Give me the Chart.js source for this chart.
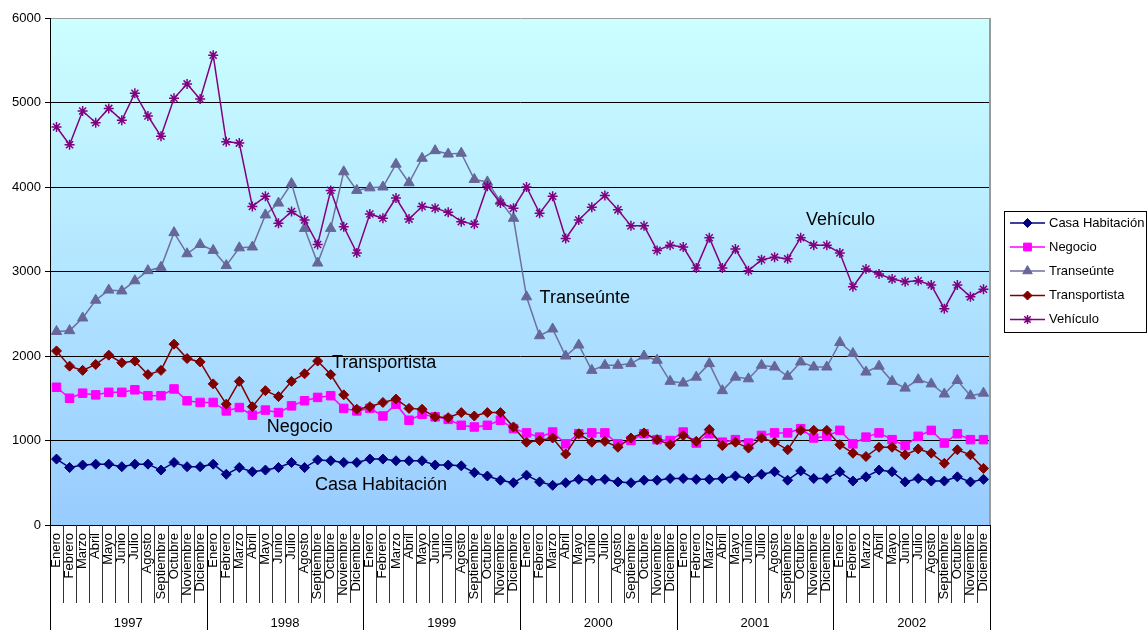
<!DOCTYPE html>
<html lang="es">
<head>
<meta charset="utf-8">
<title>Incidencia mensual por tipo, 1997–2002</title>
<script src="https://cdn.jsdelivr.net/npm/chart.js@4/dist/chart.umd.min.js"></script>
<style>
  html, body { margin: 0; padding: 0; background: #ffffff; }
  canvas { display: block; }
</style>
</head>
<body>
<canvas id="chart" width="1148" height="630"></canvas>
<script>
// ---- data ---------------------------------------------------------------
const years = ['1997', '1998', '1999', '2000', '2001', '2002'];
const months = ['Enero', 'Febrero', 'Marzo', 'Abril', 'Mayo', 'Junio', 'Julio',
  'Agosto', 'Septiembre', 'Octubre', 'Noviembre', 'Diciembre'];
const monthLabels = years.flatMap(() => months);

const yTicks = [0, 1000, 2000, 3000, 4000, 5000, 6000];

const seriesNames = ['Casa Habitación', 'Negocio', 'Transeúnte', 'Transportista', 'Vehículo'];

const casaHabitacion = [
  780, 680, 710, 720, 720, 690, 720, 720, 650, 740, 690, 690,
  720, 600, 680, 630, 650, 680, 740, 680, 770, 760, 740, 740,
  780, 780, 760, 760, 760, 710, 710, 700, 620, 580, 530, 500,
  590, 510, 470, 500, 540, 530, 540, 510, 500, 530, 530, 550,
  550, 540, 540, 550, 580, 550, 600, 630, 530, 640, 550, 550,
  630, 520, 570, 650, 630, 510, 550, 520, 520, 570, 510, 540];

const negocio = [
  1630, 1500, 1560, 1540, 1570, 1570, 1600, 1530, 1530, 1610, 1470, 1450,
  1450, 1350, 1390, 1300, 1360, 1330, 1410, 1470, 1510, 1530, 1380, 1350,
  1380, 1290, 1430, 1240, 1310, 1280, 1250, 1180, 1160, 1180, 1240, 1140,
  1090, 1040, 1100, 960, 1080, 1090, 1090, 960, 1000, 1080, 1010, 1000,
  1100, 970, 1080, 980, 1010, 970, 1060, 1090, 1090, 1140, 1030, 1050,
  1120, 960, 1040, 1090, 1010, 940, 1050, 1120, 970, 1080, 1010, 1010];

const transeunte = [
  2290, 2300, 2450, 2660, 2780, 2770, 2890, 3010, 3050, 3460, 3210, 3320,
  3250, 3070, 3280, 3290, 3670, 3810, 4040, 3510, 3100, 3510, 4180, 3960,
  3990, 4000, 4270, 4050, 4340, 4430, 4390, 4400, 4090, 4060, 3830, 3630,
  2700, 2240, 2320, 2000, 2130, 1830, 1890, 1890, 1910, 2000, 1950, 1700,
  1680, 1750, 1910, 1590, 1750, 1730, 1890, 1870, 1760, 1930, 1870, 1870,
  2160, 2030, 1810, 1880, 1700, 1620, 1720, 1670, 1550, 1710, 1530, 1560];

const transportista = [
  2060, 1880, 1830, 1900, 2010, 1920, 1940, 1780, 1830, 2140, 1970, 1930,
  1670, 1430, 1700, 1400, 1590, 1520, 1700, 1790, 1940, 1780, 1540, 1370,
  1400, 1450, 1490, 1380, 1370, 1280, 1270, 1330, 1290, 1330, 1330, 1160,
  980, 1000, 1030, 840, 1080, 980, 990, 920, 1030, 1090, 1010, 950,
  1060, 990, 1130, 940, 980, 910, 1030, 980, 890, 1120, 1120, 1120,
  950, 850, 810, 920, 920, 830, 900, 850, 730, 890, 830, 670];

const vehiculo = [
  4710, 4500, 4900, 4760, 4930, 4790, 5110, 4840, 4600, 5050, 5220, 5040,
  5560, 4535, 4520, 3770, 3890, 3570, 3710, 3610, 3320, 3960, 3530, 3220,
  3680, 3630, 3870, 3620, 3770, 3750, 3700, 3590, 3560, 4010, 3810, 3750,
  4000, 3690, 3890, 3390, 3610, 3760, 3900, 3730, 3540, 3540, 3250, 3310,
  3290, 3040, 3400, 3040, 3265, 3010, 3140, 3170, 3150, 3400, 3310, 3310,
  3220, 2820, 3030, 2970, 2910, 2880, 2890, 2840, 2560, 2840, 2700, 2790];

// series name labels written inside the plot, anchored in data units
const noteTexts = ['Vehículo', 'Transeúnte', 'Transportista', 'Negocio', 'Casa Habitación'];
const noteAtIndex = [57.4, 37.0, 21.1, 16.1, 19.8];
const noteAtValue = [3555, 2627, 1858, 1101, 414];

// ---- styling ------------------------------------------------------------
const FONT = "'Liberation Sans', Arial, Helvetica, sans-serif";
Chart.defaults.font.family = FONT;
Chart.defaults.color = '#000000';

const styles = [
  { line: '#000080', fill: '#000080', point: 'rectRot', radius: 5 },
  { line: '#ff00ff', fill: '#ff00ff', point: 'rect', radius: 6 },
  { line: '#6f6fa0', fill: '#666699', point: 'triangle', radius: 6 },
  { line: '#800000', fill: '#800000', point: 'rectRot', radius: 5 },
  { line: '#800080', fill: '#800080', point: 'star', radius: 5 }
];
const seriesData = [casaHabitacion, negocio, transeunte, transportista, vehiculo];

const datasets = seriesNames.map((name, i) => ({
  label: name,
  data: seriesData[i],
  borderColor: styles[i].line,
  borderWidth: 1.5,
  pointStyle: styles[i].point,
  pointRadius: styles[i].radius,
  pointBackgroundColor: styles[i].fill,
  pointBorderColor: styles[i].fill,
  pointBorderWidth: styles[i].point === 'star' ? 1.5 : 1,
  tension: 0,
  fill: false,
  order: seriesNames.length - i
}));

// gradient plot background plus grey frame on the right
const plotBackground = {
  id: 'plotBackground',
  beforeDraw(chart) {
    const { ctx, chartArea: a } = chart;
    const g = ctx.createLinearGradient(0, a.top, 0, a.bottom);
    g.addColorStop(0, '#ccffff');
    g.addColorStop(1, '#99ccff');
    ctx.save();
    ctx.fillStyle = g;
    ctx.fillRect(a.left, a.top, a.right - a.left, a.bottom - a.top);
    ctx.restore();
  },
  afterDraw(chart) {
    const { ctx, chartArea: a } = chart;
    ctx.save();
    ctx.strokeStyle = '#9a9a9a';
    ctx.lineWidth = 2;
    ctx.beginPath();
    ctx.moveTo(a.right, a.top);
    ctx.lineTo(a.right, a.bottom);
    ctx.stroke();
    ctx.restore();
  }
};

// month dividers and the year row below the month labels
const yearAxis = {
  id: 'yearAxis',
  afterDraw(chart) {
    const { ctx, chartArea: a, scales: { x } } = chart;
    const monthRowBottom = a.bottom + 78;
    const yearRowBottom = chart.height;
    ctx.save();
    ctx.lineWidth = 1;
    for (let i = 0; i <= monthLabels.length; i++) {
      const px = Math.round(x.getPixelForValue(i - 0.5)) + 0.5;
      const isYearEdge = i % months.length === 0;
      ctx.strokeStyle = isYearEdge ? '#000000' : '#333333';
      ctx.beginPath();
      ctx.moveTo(px, a.bottom);
      ctx.lineTo(px, isYearEdge ? yearRowBottom : monthRowBottom);
      ctx.stroke();
    }
    ctx.fillStyle = '#000000';
    ctx.font = '13px ' + FONT;
    ctx.textAlign = 'center';
    ctx.textBaseline = 'middle';
    years.forEach((yr, k) => {
      const left = x.getPixelForValue(k * months.length - 0.5);
      const right = x.getPixelForValue((k + 1) * months.length - 0.5);
      ctx.fillText(yr, (left + right) / 2, 623);
    });
    ctx.restore();
  }
};

// names of the series written next to their lines
const seriesNotes = {
  id: 'seriesNotes',
  afterDatasetsDraw(chart) {
    const { ctx, scales: { x, y } } = chart;
    ctx.save();
    ctx.fillStyle = '#000000';
    ctx.font = '18px ' + FONT;
    ctx.textAlign = 'left';
    ctx.textBaseline = 'alphabetic';
    noteTexts.forEach((t, i) => {
      ctx.fillText(t, x.getPixelForValue(noteAtIndex[i]), y.getPixelForValue(noteAtValue[i]));
    });
    ctx.restore();
  }
};

// boxed legend on the right with line + marker samples
const boxedLegend = {
  id: 'boxedLegend',
  afterDraw(chart) {
    const { ctx } = chart;
    const box = { left: 1004.5, top: 211.5, right: 1146.5, bottom: 332.5 };
    const rowY = [223, 247, 271, 295.5, 319.5];
    ctx.save();
    ctx.fillStyle = '#ffffff';
    ctx.fillRect(box.left, box.top, box.right - box.left, box.bottom - box.top);
    ctx.strokeStyle = '#000000';
    ctx.lineWidth = 1;
    ctx.strokeRect(box.left, box.top, box.right - box.left, box.bottom - box.top);
    ctx.font = '13px ' + FONT;
    ctx.textAlign = 'left';
    ctx.textBaseline = 'middle';
    chart.data.datasets.forEach((ds, i) => {
      const yy = rowY[i];
      ctx.strokeStyle = ds.borderColor;
      ctx.lineWidth = 1.5;
      ctx.beginPath();
      ctx.moveTo(1010, yy);
      ctx.lineTo(1045, yy);
      ctx.stroke();
      ctx.fillStyle = ds.pointBackgroundColor;
      ctx.strokeStyle = ds.pointBorderColor;
      ctx.lineWidth = ds.pointBorderWidth;
      Chart.helpers.drawPoint(ctx, {
        pointStyle: ds.pointStyle,
        radius: ds.pointRadius - 0.5,
        rotation: 0,
        borderWidth: ds.pointBorderWidth
      }, 1027.5, yy);
      ctx.fillStyle = '#000000';
      ctx.fillText(ds.label, 1049, yy);
    });
    ctx.restore();
  }
};

new Chart(document.getElementById('chart'), {
  type: 'line',
  data: { labels: monthLabels, datasets },
  plugins: [plotBackground, yearAxis, seriesNotes, boxedLegend],
  options: {
    responsive: false,
    devicePixelRatio: 1,
    animation: false,
    layout: { padding: { top: 18, right: 158, left: 0, bottom: 0 } },
    plugins: {
      legend: { display: false },
      tooltip: { enabled: false }
    },
    scales: {
      x: {
        type: 'category',
        offset: true,
        grid: { display: false, drawTicks: false },
        border: { display: true, color: '#000000', width: 1 },
        ticks: {
          autoSkip: false,
          minRotation: 90,
          maxRotation: 90,
          padding: 8,
          color: '#000000',
          font: { size: 13 }
        },
        afterFit(scale) { scale.height = 105; }
      },
      y: {
        min: yTicks[0],
        max: yTicks[yTicks.length - 1],
        afterBuildTicks(scale) { scale.ticks = yTicks.map(v => ({ value: v })); },
        ticks: {
          color: '#000000',
          font: { size: 13 },
          padding: 4,
          callback: value => String(value)
        },
        grid: {
          color: ctx => (ctx.tick && ctx.tick.value === 6000) ? '#9a9a9a' : '#000000',
          tickColor: '#000000',
          lineWidth: 1,
          tickLength: 5
        },
        border: { display: true, color: '#000000', width: 1 },
        afterFit(scale) { scale.width = 50; }
      }
    }
  }
});
</script>
</body>
</html>
